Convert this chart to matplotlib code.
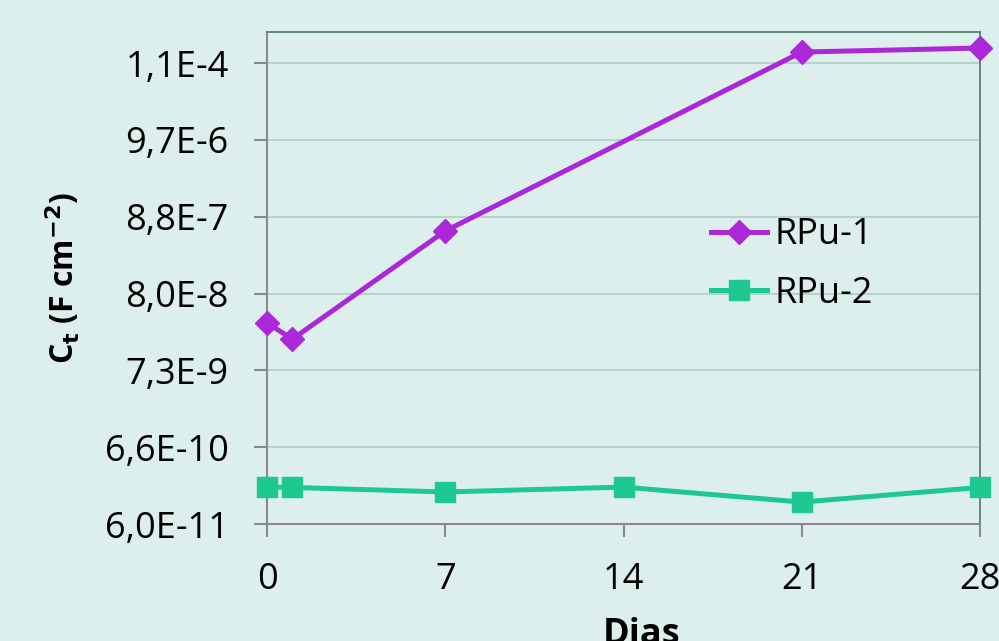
import matplotlib.pyplot as plt
from matplotlib.ticker import FixedLocator, NullLocator

# data
dias_rpu1 = [0, 1, 7, 21, 28]
ct_rpu1 = [3.18e-8, 1.93e-8, 5.63e-7, 1.50e-4, 1.70e-4]
dias_rpu2 = [0, 1, 7, 14, 21, 28]
ct_rpu2 = [1.90e-10, 1.88e-10, 1.63e-10, 1.90e-10, 1.19e-10, 1.88e-10]

x_ticks = [0, 7, 14, 21, 28]
y_ticks = [6.0e-11 * 11 ** k for k in range(7)]
y_labels = ["6,0E-11", "6,6E-10", "7,3E-9", "8,0E-8", "8,8E-7", "9,7E-6", "1,1E-4"]

purple = '#aa28d8'
green = '#1ec991'
bg = '#ddefec'

plt.rcParams['font.family'] = ['Open Sans', 'DejaVu Sans']

fig = plt.figure(figsize=(9.99, 6.41), dpi=100, facecolor=bg)
ax = fig.add_axes([0.2673, 0.1825, 0.7137, 0.7675])
ax.set_facecolor('none')

ax.plot(dias_rpu1, ct_rpu1, color=purple, lw=3.6, marker='D', ms=12,
        label='RPu-1', clip_on=False, zorder=3)
ax.plot(dias_rpu2, ct_rpu2, color=green, lw=3.6, marker='s', ms=14,
        label='RPu-2', clip_on=False, zorder=3)

ax.set_yscale('log', base=11)
ax.set_ylim(6.0e-11, 6.0e-11 * 11 ** 6.404)
ax.set_xlim(0, 28)
ax.yaxis.set_major_locator(FixedLocator(y_ticks))
ax.yaxis.set_minor_locator(NullLocator())
ax.set_yticklabels(y_labels)
ax.set_xticks(x_ticks)

ax.grid(axis='y', color='#aecfc3', lw=1.2)
ax.set_axisbelow(True)

for s in ['left', 'bottom']:
    ax.spines[s].set_color('#8a8a8a')
    ax.spines[s].set_linewidth(1.5)
for s in ['top', 'right']:
    ax.spines[s].set_color('#4f7a62')
    ax.spines[s].set_linewidth(1.2)

ax.tick_params(axis='both', direction='out', length=9.5, width=1.5,
               color='#8a8a8a', labelsize=26)
ax.tick_params(axis='x', pad=18)
ax.tick_params(axis='y', pad=18)

ax.set_ylabel(r'C$_\mathbf{t}$ (F cm$^{\mathbf{-2}}$)', fontsize=23,
              fontweight='bold')
ax.yaxis.set_label_coords(-0.258, 0.5)
ax.set_xlabel('Dias', fontsize=26, fontweight='bold')
ax.xaxis.set_label_coords(0.525, -0.19)

ax.legend(loc='upper left', bbox_to_anchor=(0.598, 0.66), frameon=False,
          fontsize=26, handlelength=1.55, handletextpad=0.2, labelspacing=0.62,
          borderpad=0)

fig.savefig('out.png', dpi=100, facecolor=bg)
